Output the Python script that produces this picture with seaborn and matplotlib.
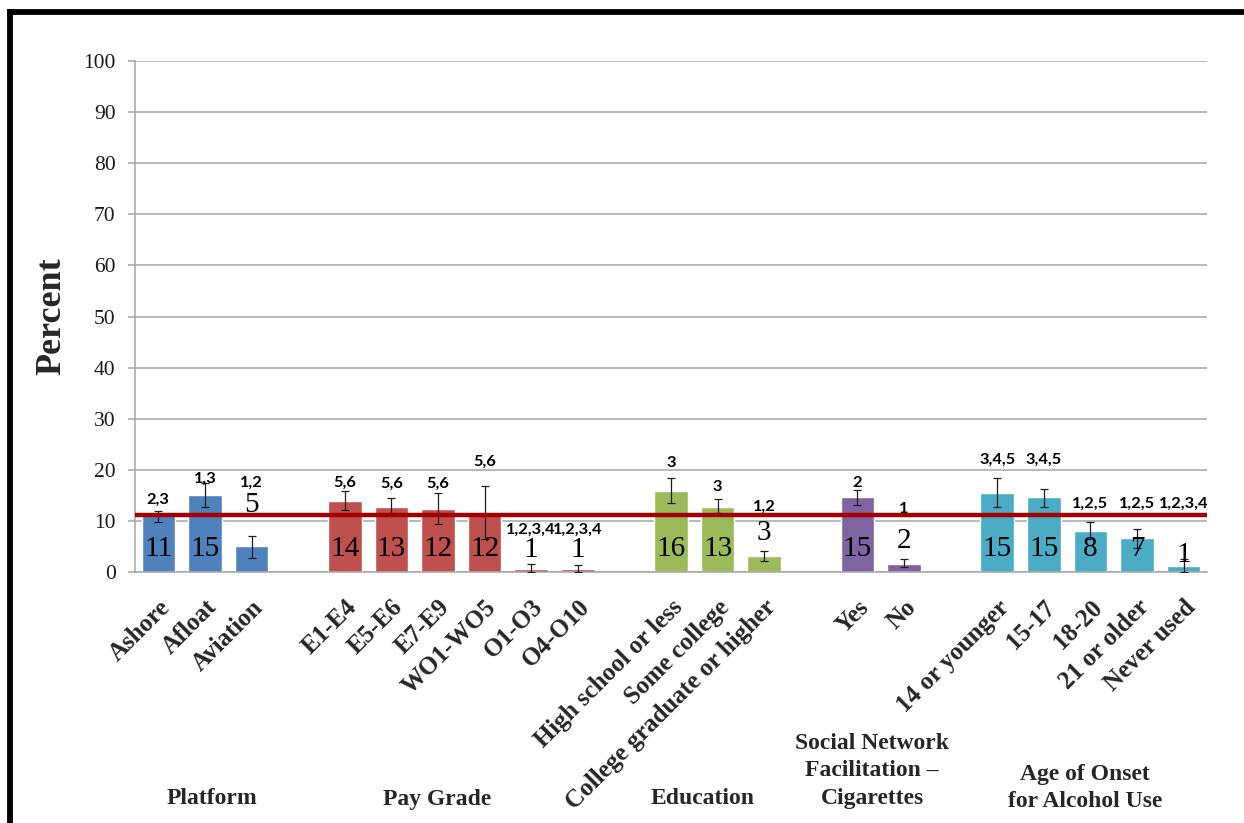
import matplotlib
matplotlib.use("Agg")
import matplotlib.pyplot as plt
import seaborn as sns
import pandas as pd
from matplotlib.lines import Line2D

# ---- data -------------------------------------------------------------
platform = ["Ashore", "Afloat", "Aviation"]
platform_pct = [11.2, 15.1, 5.0]
platform_lo = [9.7, 12.7, 2.7]
platform_hi = [11.9, 17.4, 7.1]
platform_sig = ["2,3", "1,3", "1,2"]

pay_grade = ["E1-E4", "E5-E6", "E7-E9", "WO1-WO5", "O1-O3", "O4-O10"]
pay_grade_pct = [13.95, 12.8, 12.3, 11.6, 0.65, 0.55]
pay_grade_lo = [12.1, 11.5, 9.4, 6.4, 0.0, 0.0]
pay_grade_hi = [15.9, 14.4, 15.5, 16.8, 1.5, 1.3]
pay_grade_sig = ["5,6", "5,6", "5,6", "5,6", "1,2,3,4", "1,2,3,4"]

education = ["High school or less", "Some college", "College graduate or higher"]
education_pct = [15.9, 12.7, 3.2]
education_lo = [13.6, 11.5, 2.1]
education_hi = [18.4, 14.2, 4.2]
education_sig = ["3", "3", "1,2"]

social = ["Yes", "No"]
social_pct = [14.6, 1.6]
social_lo = [13.2, 0.9]
social_hi = [16.0, 2.5]
social_sig = ["2", "1"]

onset = ["14 or younger", "15-17", "18-20", "21 or older", "Never used"]
onset_pct = [15.4, 14.6, 8.1, 6.6, 1.2]
onset_lo = [12.7, 12.7, 6.4, 4.6, 0.0]
onset_hi = [18.3, 16.3, 9.8, 8.5, 2.6]
onset_sig = ["3,4,5", "3,4,5", "1,2,5", "1,2,5", "1,2,3,4"]

overall_pct = 11.2

group_names = ["Platform", "Pay Grade", "Education",
               "Social Network\nFacilitation \u2013\nCigarettes",
               "Age of Onset\nfor Alcohol Use"]
group_colors = ["#4F81BD", "#C0504D", "#9BBB59", "#8064A2", "#4BACC6"]

# ---- assemble -----------------------------------------------------------
blocks = [
    (platform, platform_pct, platform_lo, platform_hi, platform_sig),
    (pay_grade, pay_grade_pct, pay_grade_lo, pay_grade_hi, pay_grade_sig),
    (education, education_pct, education_lo, education_hi, education_sig),
    (social, social_pct, social_lo, social_hi, social_sig),
    (onset, onset_pct, onset_lo, onset_hi, onset_sig),
]
rows = []
order = []
for gi, (cats, pct, lo, hi, sig) in enumerate(blocks):
    if gi > 0:
        order.append(" " * gi)  # empty slot between groups
    for c, p, l, h, s in zip(cats, pct, lo, hi, sig):
        rows.append(dict(category=c, group=group_names[gi], pct=p, lo=l, hi=h, sig=s))
        order.append(c)
df = pd.DataFrame(rows)
pos = {c: i for i, c in enumerate(order)}
df["x"] = df["category"].map(pos)

# ---- layout for annotations (heights of text in percent units) ----------
sig_y = {"Ashore": 14.1, "Afloat": 18.2, "Aviation": 17.4,
         "E1-E4": 17.4, "E5-E6": 17.2, "E7-E9": 17.2, "WO1-WO5": 21.6,
         "O1-O3": 8.3, "O4-O10": 8.3,
         "High school or less": 21.4, "Some college": 16.7,
         "College graduate or higher": 12.8,
         "Yes": 17.4, "No": 12.3,
         "14 or younger": 21.9, "15-17": 21.9, "18-20": 13.4,
         "21 or older": 13.4, "Never used": 13.4}
outside_label_y = {"Aviation": 13.1, "O1-O3": 4.3, "O4-O10": 4.3,
                   "College graduate or higher": 7.6, "No": 6.0,
                   "Never used": 3.3}

# ---- figure -------------------------------------------------------------
sns.set_theme(style="white")
plt.rcParams["font.family"] = ["Liberation Serif", "DejaVu Serif"]

W, H = 1244, 823
fig = plt.figure(figsize=(W / 100, H / 100), dpi=100)
ax = fig.add_axes([135 / W, 1 - 572 / H, (1207 - 135) / W, (572 - 61) / H])

palette = dict(zip(group_names, group_colors))
sns.barplot(data=df, x="category", y="pct", hue="group", order=order,
            palette=palette, width=0.72, saturation=1, legend=False,
            errorbar=None, ax=ax, zorder=2)

ax.errorbar(df["x"], df["pct"], yerr=[df["pct"] - df["lo"], df["hi"] - df["pct"]],
            fmt="none", ecolor="#1f1f1f", elinewidth=0.9, capsize=3,
            capthick=0.9, zorder=4, clip_on=True)

ax.axhline(overall_pct, color="#A50000", lw=3.2, zorder=5)

ax.set_xlim(-0.5, len(order) - 0.5)
ax.set_ylim(0, 100)
ax.set_yticks(range(0, 101, 10))
ax.yaxis.grid(True, color="#A6A6A6", lw=1.1, zorder=0)
ax.set_axisbelow(True)
for s in ["top", "right"]:
    ax.spines[s].set_visible(False)
ax.spines["left"].set_color("#A6A6A6")
ax.spines["bottom"].set_color("#A6A6A6")
ax.spines["left"].set_linewidth(1.1)
ax.spines["bottom"].set_linewidth(1.1)
ax.tick_params(axis="y", length=5, width=1.1, color="#A6A6A6", pad=9,
               labelsize=15.5, labelcolor="#1a1a1a", left=True)
ax.set_xlabel("")
ax.set_ylabel("")

ax.set_xticks(df["x"])
ax.set_xticklabels(df["category"], rotation=45, ha="right", va="top",
                   rotation_mode="anchor", fontsize=18, fontweight="bold")
ax.tick_params(axis="x", length=0, pad=17)

for _, r in df.iterrows():
    label = f"{r['pct']:.0f}"
    y = outside_label_y.get(r["category"], 4.5)
    ax.text(r["x"], y, label, ha="center", va="center",
            fontsize=21, color="black", zorder=6)
    ax.text(r["x"], sig_y[r["category"]], r["sig"], ha="center", va="center",
            fontsize=11.8, fontweight="bold", family=["Lato", "DejaVu Sans"],
            color="black", zorder=6)

fig.text(52 / W, 1 - 316 / H, "Percent", rotation=90, ha="center", va="center",
         fontsize=26, fontweight="bold")

group_label_pos = [(212, 799), (437, 799), (703, 799), (872, 771), (1085, 788)]
for name, (gx, gy) in zip(group_names, group_label_pos):
    fig.text(gx / W, 1 - gy / H, name, ha="center", va="center", fontsize=17,
             fontweight="bold", linespacing=1.4)

# outer frame (left and top edges)
fig.add_artist(Line2D([10 / W, 10 / W], [0, 1 - 12 / H], color="black",
                      lw=4.2, solid_capstyle="projecting", transform=fig.transFigure))
fig.add_artist(Line2D([10 / W, 1], [1 - 12 / H, 1 - 12 / H], color="black",
                      lw=4.2, solid_capstyle="projecting", transform=fig.transFigure))

fig.savefig("out.png", dpi=100)
